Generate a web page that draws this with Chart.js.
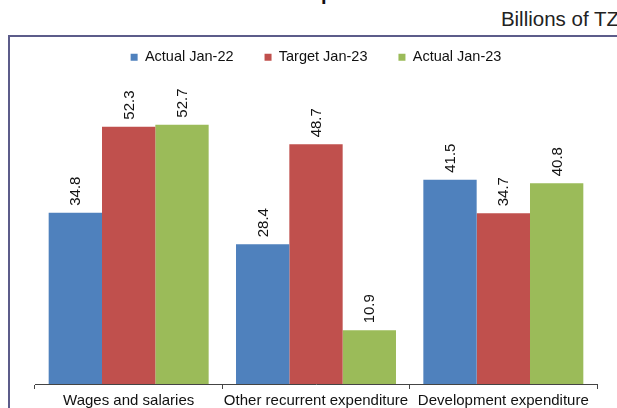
<!DOCTYPE html>
<html>
<head>
<meta charset="utf-8">
<script src="https://cdn.jsdelivr.net/npm/chart.js@4/dist/chart.umd.min.js"></script>
<style>
  html, body { margin: 0; padding: 0; background: #fff; overflow: hidden; width: 617px; height: 408px; }
  .frame { position: absolute; left: 8px; top: 35px; width: 700px; height: 500px; border-left: 2px solid #5c5c8a; border-top: 2px solid #5c5c8a; }
  .unit { position: absolute; right: -2px; top: 8px; font: 20.5px 'Liberation Sans', Arial, sans-serif; line-height: 22px; color: #222; white-space: nowrap; }
  .title { position: absolute; left: 321px; top: -17px; font: bold 20px 'Liberation Sans', Arial, sans-serif; line-height: 20px; color: #111; }
  .wrap { position: absolute; left: 0; top: 0; width: 617px; height: 413px; }
</style>
</head>
<body>
<div class="title">p</div>
<div class="unit">Billions of TZ</div>
<div class="frame"></div>
<div class="wrap"><canvas id="chart"></canvas></div>
<script>
  var categories = ['Wages and salaries', 'Other recurrent expenditure', 'Development expenditure'];
  var actualJan22 = [34.8, 28.4, 41.5];
  var targetJan23 = [52.3, 48.7, 34.7];
  var actualJan23 = [52.7, 10.9, 40.8];

  Chart.defaults.font.family = "'Liberation Sans', Arial, sans-serif";
  Chart.defaults.font.size = 14;
  Chart.defaults.color = '#111';
  Chart.defaults.animation = false;

  /* rotated value labels above each bar */
  var valueLabels = {
    id: 'valueLabels',
    afterDatasetsDraw: function(chart) {
      var ctx = chart.ctx;
      ctx.save();
      ctx.font = "15px 'Liberation Sans', Arial, sans-serif";
      ctx.fillStyle = '#111';
      ctx.textAlign = 'left';
      ctx.textBaseline = 'middle';
      chart.data.datasets.forEach(function(ds, i) {
        chart.getDatasetMeta(i).data.forEach(function(bar, j) {
          ctx.save();
          ctx.translate(bar.x + 1, bar.y - 7);
          ctx.rotate(-Math.PI / 2);
          ctx.fillText(ds.data[j].toFixed(1), 0, 0);
          ctx.restore();
        });
      });
      ctx.restore();
    }
  };

  new Chart(document.getElementById('chart'), {
    type: 'bar',
    data: {
      labels: categories,
      datasets: [
        { label: 'Actual Jan-22', data: actualJan22, backgroundColor: '#4f81bd' },
        { label: 'Target Jan-23', data: targetJan23, backgroundColor: '#c0504d' },
        { label: 'Actual Jan-23', data: actualJan23, backgroundColor: '#9bbb59' }
      ]
    },
    options: {
      responsive: true,
      maintainAspectRatio: false,
      layout: { padding: { left: 35, right: 20, top: 19, bottom: 0 } },
      datasets: { bar: { categoryPercentage: 0.854, barPercentage: 1.0, borderWidth: 0 } },
      plugins: {
        legend: {
          display: true,
          position: 'top',
          labels: { boxWidth: 7, boxHeight: 7, padding: 31, color: '#111', font: { size: 14.5 } }
        },
        tooltip: { enabled: false }
      },
      scales: {
        y: { display: false, min: 0, max: 62.9 },
        x: {
          grid: { display: true, drawOnChartArea: false, drawTicks: true, tickLength: 5, offset: true, color: '#444' },
          border: { display: true, color: '#444', width: 1 },
          ticks: { padding: 3, color: '#111', font: { size: 15 }, maxRotation: 0, autoSkip: false }
        }
      }
    },
    plugins: [valueLabels]
  });
</script>
</body>
</html>
